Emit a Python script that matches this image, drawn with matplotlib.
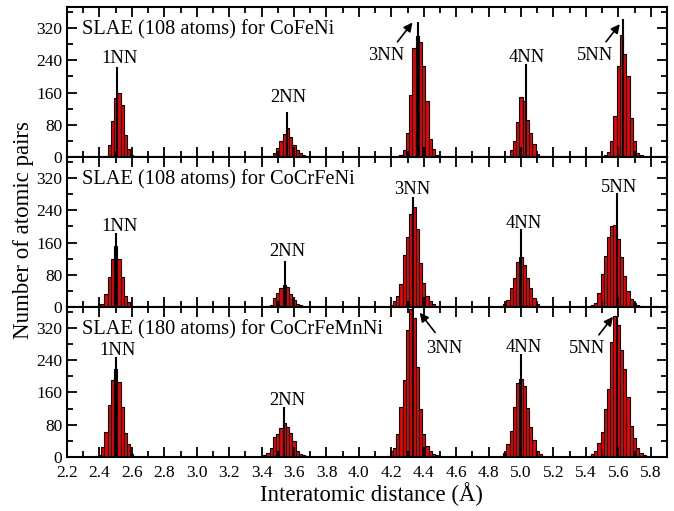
import numpy as np
import matplotlib
matplotlib.use("Agg")
import matplotlib.pyplot as plt
from matplotlib.ticker import MultipleLocator

plt.rcParams['font.family'] = ['Liberation Serif', 'DejaVu Serif']

bin_w = 0.02

# --- SLAE 108 atoms, CoFeNi ---
top_starts = [2.44, 3.46, 4.24, 4.92, 5.52]
top_counts = [
    [3, 29, 90, 146, 160, 129, 56, 21, 4, 2],
    [3, 10, 22, 39, 58, 73, 49, 31, 17, 10, 4],
    [3, 6, 17, 59, 154, 270, 300, 285, 225, 140, 45, 20, 6, 3],
    [3, 17, 41, 87, 150, 140, 91, 60, 33, 8, 3],
    [4, 12, 39, 102, 225, 303, 257, 200, 98, 39, 10, 4],
]
top_ref_x = [2.511, 3.554, 4.363, 5.032, 5.630]
top_ref_h = [224, 112, 334, 232, 342]

# --- SLAE 108 atoms, CoCrFeNi ---
mid_starts = [2.40, 3.44, 4.18, 4.88, 5.42]
mid_counts = [
    [8, 8, 33, 75, 118, 152, 118, 75, 28, 12, 3, 1, 2],
    [2, 6, 23, 35, 48, 54, 49, 33, 18, 8, 4, 2, 1],
    [1, 4, 14, 27, 58, 129, 173, 232, 247, 194, 110, 60, 28, 14, 8, 3],
    [2, 8, 18, 48, 73, 112, 123, 105, 73, 48, 23, 8, 2],
    [2, 4, 10, 35, 81, 127, 173, 200, 203, 169, 123, 77, 39, 21, 10, 4, 2],
]
mid_ref_x = [2.503, 3.544, 4.332, 5.001, 5.593]
mid_ref_h = [183, 115, 274, 194, 282]

# --- SLAE 180 atoms, CoCrFeMnNi ---
bot_starts = [2.38, 3.38, 4.18, 4.88, 5.42]
bot_counts = [
    [2, 6, 25, 62, 129, 192, 219, 186, 125, 59, 31, 8, 3, 1, 1],
    [1, 2, 5, 10, 23, 49, 58, 73, 84, 75, 60, 39, 14, 8, 4, 2, 1],
    [2, 14, 23, 58, 125, 190, 314, 368, 345, 224, 119, 56, 27, 14, 8, 4],
    [3, 10, 31, 64, 125, 183, 194, 175, 121, 75, 41, 16, 8, 3],
    [2, 8, 16, 35, 63, 119, 169, 286, 349, 328, 265, 219, 148, 77, 46, 23, 10, 4],
]
bot_ref_x = [2.503, 3.540, 4.332, 5.000, 5.589]
bot_ref_h = [247, 123, 372, 255, 351]

titles = ["SLAE (108 atoms) for CoFeNi",
          "SLAE (108 atoms) for CoCrFeNi",
          "SLAE (180 atoms) for CoCrFeMnNi"]
nn_names = ["1NN", "2NN", "3NN", "4NN", "5NN"]

# label positions (x, baseline y) per panel
top_lab = [(2.522, 234), (3.564, 136), (4.167, 242), (5.035, 236), (5.459, 240)]
mid_lab = [(2.522, 188), (3.558, 127), (4.332, 280), (5.017, 196), (5.602, 285)]
bot_lab = [(2.509, 253), (3.558, 129), (4.525, 259), (5.014, 261), (5.407, 259)]

# arrows: (tail, head)
top_arrows = [((4.238, 286), (4.331, 334)), ((5.524, 286), (5.609, 330))]
mid_arrows = []
bot_arrows = [((4.47, 309), (4.375, 358)), ((5.48, 303), (5.567, 348))]

panels = [
    (top_starts, top_counts, top_ref_x, top_ref_h, top_lab, top_arrows),
    (mid_starts, mid_counts, mid_ref_x, mid_ref_h, mid_lab, mid_arrows),
    (bot_starts, bot_counts, bot_ref_x, bot_ref_h, bot_lab, bot_arrows),
]

fig = plt.figure(figsize=(6.74, 5.11), dpi=100)
axes = fig.subplots(3, 1, sharex=True)
fig.subplots_adjust(left=0.0994, right=0.9896, bottom=0.1057, top=0.986, hspace=0)

for ax, (starts, counts, rx, rh, labs, arrows), title in zip(axes, panels, titles):
    for s, c in zip(starts, counts):
        xs = s + bin_w * np.arange(len(c))
        ax.bar(xs, c, width=bin_w, color="#f00000", edgecolor="black", linewidth=0.8)
    ax.vlines(rx, 0, rh, colors="black", linewidth=1.5)
    for name, (lx, ly) in zip(nn_names, labs):
        ax.text(lx, ly, name, ha="center", va="baseline", fontsize=13.3)
    for tail, head in arrows:
        ax.annotate("", xy=head, xytext=tail,
                    arrowprops=dict(arrowstyle="-|>", color="black", lw=1.2,
                                    mutation_scale=13, shrinkA=0, shrinkB=0))
    ax.text(2.293, 305, title, ha="left", va="baseline", fontsize=14.7)
    ax.set_xlim(2.2, 5.9)
    ax.set_ylim(0, 372)
    ax.set_yticks([0, 80, 160, 240, 320])
    ax.yaxis.set_minor_locator(MultipleLocator(40))
    ax.xaxis.set_major_locator(MultipleLocator(0.2))
    ax.xaxis.set_minor_locator(MultipleLocator(0.1))
    ax.tick_params(which="both", direction="in", top=True, right=True, width=1.3,
                   labelsize=12.5)
    ax.tick_params(which="major", length=7)
    ax.tick_params(which="minor", length=4)
    ax.tick_params(axis="x", pad=6)
    for sp in ax.spines.values():
        sp.set_linewidth(1.5)

axes[2].set_xticklabels([f"{v:.1f}" for v in axes[2].get_xticks()])
axes[2].set_xlim(2.2, 5.9)

fig.text(371 / 674, 1 - 494 / 511, "Interatomic distance (Å)", ha="center", va="center",
         fontsize=16.4)
fig.text(24 / 674, 1 - 230 / 511, "Number of atomic pairs", ha="center", va="center",
         rotation=90, fontsize=16.5)

fig.savefig("out.png", dpi=100)
